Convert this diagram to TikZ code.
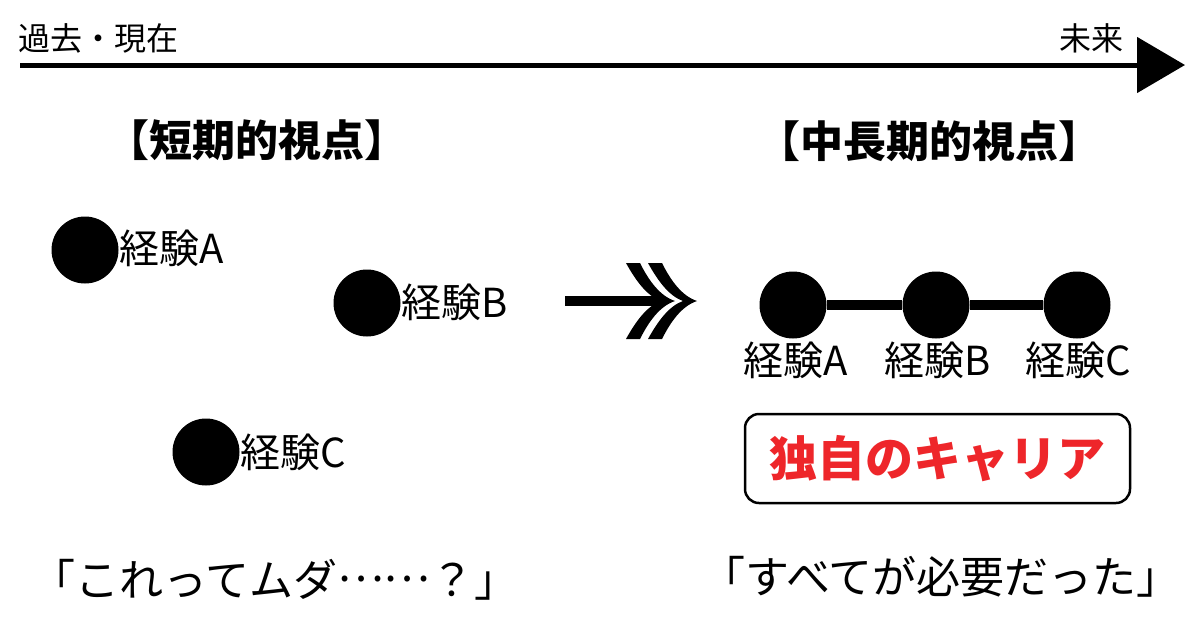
\documentclass[tikz,border=0pt]{standalone}
\usepackage{fontspec}
\setmainfont{Noto Sans CJK JP}
\usetikzlibrary{arrows.meta}
\definecolor{cred}{RGB}{238,38,42}
\begin{document}
\begin{tikzpicture}[x=1pt,y=-1pt,
  dot/.style={circle,fill=black,inner sep=0pt,minimum size=67pt},
  lbl/.style={font=\fontsize{40}{40}\selectfont,inner sep=0pt},
  tl/.style={font=\fontsize{32}{32}\selectfont,inner sep=0pt},
  head/.style={font=\fontsize{43}{43}\selectfont\bfseries,inner sep=0pt},
  quo/.style={font=\fontsize{44}{44}\selectfont,inner sep=0pt},
  chev/.style={fill=black}]
\useasboundingbox (0,0) rectangle (1200,630);
\fill[white] (0,0) rectangle (1200,630);
% timeline
\coordinate (tlS) at (20,65);
\coordinate (tlE) at (1185,65);
\draw[line width=5pt,-{Triangle[length=48pt,width=55pt]}] (tlS) -- (tlE);
\node[tl,anchor=west] (past) at (18,38) {過去・現在};
\node[tl,anchor=east] (future) at (1124,38) {未来};
% headings
\node[head] (h1) at (257,140) {【短期的視点】};
\node[head] (h2) at (929,141) {【中長期的視点】};
% left dots
\node[dot] (lA) at (85,250) {};
\node[lbl,anchor=west] (lAl) at (119,248) {経験A};
\node[dot] (lB) at (367,303) {};
\node[lbl,anchor=west] (lBl) at (401,302) {経験B};
\node[dot] (lC) at (206,452) {};
\node[lbl,anchor=west] (lCl) at (240,452) {経験C};
% double arrow
\coordinate (dS) at (565,301);
\coordinate (dE) at (664,301);
\draw[line width=10pt] (dS) -- (dE);
\fill[chev] (626,263) .. controls (636,281) and (647,296) .. (661,301)
  .. controls (647,306) and (636,321) .. (626,339) -- (640,339)
  .. controls (649,321) and (660,306) .. (675,301)
  .. controls (660,296) and (649,281) .. (640,263) -- cycle;
\fill[chev] (648,263) .. controls (658,281) and (669,296) .. (683,301)
  .. controls (669,306) and (658,321) .. (648,339) -- (662,339)
  .. controls (671,321) and (682,306) .. (697,301)
  .. controls (682,296) and (671,281) .. (662,263) -- cycle;
% right chain
\node[dot] (rA) at (793,305) {};
\node[dot] (rB) at (936,305) {};
\node[dot] (rC) at (1077,305) {};
\draw[line width=10pt] (rA) -- (rB) -- (rC);
\node[lbl] (rAl) at (796,360) {経験A};
\node[lbl] (rBl) at (937.5,360) {経験B};
\node[lbl] (rCl) at (1078,360) {経験C};
% box
\node[draw=black,line width=2.5pt,rounded corners=14pt,minimum width=385pt,minimum height=89pt,inner sep=0pt,
  text=cred,font=\fontsize{48}{48}\selectfont\bfseries] (box) at (937.5,458.5) {独自のキャリア};
% quotes
\node[quo] (q1) at (275,580) {「これってムダ\raisebox{0.34em}{……}？」};
\node[quo] (q2) at (941,577) {「すべてが必要だった」};
\end{tikzpicture}
\end{document}
